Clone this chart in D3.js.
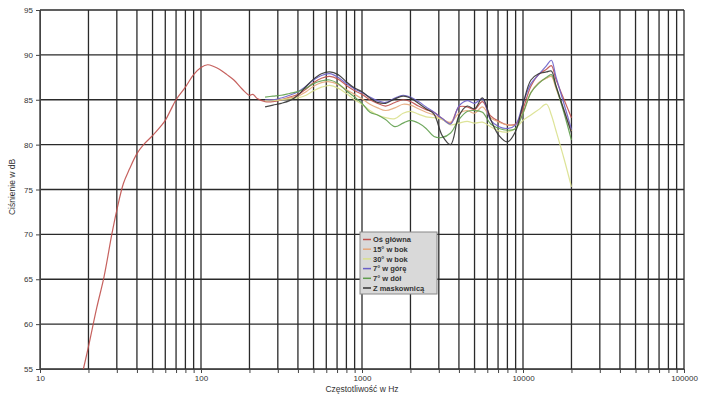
<!DOCTYPE html>
<html>
<head>
<meta charset="utf-8">
<script src="https://cdn.jsdelivr.net/npm/d3@7"></script>
<style>
  body { margin: 0; background: #fff; }
  text { font-family: "Liberation Sans", Arial, sans-serif; fill: #333; }
</style>
</head>
<body>
<div id="chart"></div>
<script>
// low range, main axis only
var lowFreqs = [18.6, 20, 22.5, 25, 28, 30, 33, 36, 40, 44, 50, 56, 60, 65, 70, 80, 90, 100, 110, 120, 130, 145, 160, 180, 200, 210, 225];
var lowMain  = [55, 57.5, 61.8, 65.3, 70.1, 72.7, 75.7, 77.3, 79.0, 80.0, 81.0, 82.0, 82.7, 83.9, 85.0, 86.4, 87.8, 88.6, 88.9, 88.7, 88.4, 87.8, 87.2, 86.2, 85.5, 85.6, 85.1];

// common grid for all measurements
var freqs = [250, 280, 315, 355, 400, 450, 500, 560, 630, 710, 800, 900, 1000, 1120, 1250, 1400, 1600, 1800, 2000, 2240, 2500, 2800, 3150, 3550, 4000, 4500, 5000, 5600, 6300, 7100, 8000, 9000, 10000, 11200, 12500, 14000, 15000, 16000, 18000, 20000];

var osGlowna  = [84.8, 84.8, 85.0, 85.3, 85.6, 86.2, 86.9, 87.4, 87.6, 87.3, 86.6, 86.0, 85.6, 85.0, 84.6, 84.3, 84.7, 85.0, 84.8, 84.3, 83.9, 83.6, 82.9, 82.4, 84.2, 84.2, 83.9, 84.8, 83.2, 82.6, 82.2, 82.3, 84.0, 86.5, 87.8, 88.4, 88.8, 87.3, 85.0, 83.0];
var bok15     = [84.9, 85.0, 85.0, 85.2, 85.4, 85.9, 86.5, 86.9, 87.0, 86.7, 86.1, 85.6, 85.1, 84.5, 84.1, 83.8, 84.1, 84.5, 84.4, 84.0, 83.6, 83.3, 82.8, 82.5, 83.5, 83.8, 83.5, 84.2, 83.0, 82.5, 82.2, 82.2, 83.5, 85.8, 86.9, 87.4, 87.6, 86.3, 83.8, 81.5];
var bok30     = [84.9, 84.9, 85.0, 85.1, 85.2, 85.5, 86.0, 86.4, 86.6, 86.3, 85.7, 85.0, 84.5, 83.8, 83.3, 83.0, 82.9, 83.5, 83.7, 83.4, 83.1, 83.0, 82.8, 82.2, 82.4, 82.6, 82.4, 82.5, 82.0, 81.5, 81.4, 81.8, 82.7, 83.3, 83.9, 84.5, 83.3, 81.6, 78.4, 75.3];
var gora7     = [85.0, 85.0, 85.2, 85.5, 85.9, 86.5, 87.2, 87.7, 87.9, 87.5, 86.8, 86.2, 85.8, 85.3, 84.9, 84.7, 85.2, 85.5, 85.3, 84.8, 84.2, 83.6, 82.9, 82.3, 84.3, 84.9, 84.6, 85.1, 82.7, 82.0, 81.8, 82.2, 84.6, 86.8, 87.8, 88.8, 89.4, 87.6, 84.5, 81.7];
var dol7      = [85.3, 85.4, 85.5, 85.7, 85.9, 86.3, 86.8, 87.1, 87.2, 86.8, 86.0, 85.3, 84.6, 83.6, 83.3, 82.8, 82.0, 82.4, 82.7, 82.4, 81.8, 80.9, 80.8, 81.3, 82.8, 83.7, 83.8, 83.6, 82.3, 81.8, 81.6, 81.8, 83.5, 85.8, 86.8, 87.5, 87.8, 86.5, 83.5, 80.5];
var maskownica= [84.2, 84.4, 84.6, 84.9, 85.5, 86.5, 87.3, 87.9, 88.1, 87.8, 87.0, 86.3, 85.9, 85.2, 84.7, 84.6, 85.1, 85.4, 85.2, 84.6, 84.0, 83.4, 81.0, 80.0, 83.2, 84.3, 84.0, 85.2, 82.8, 81.0, 80.3, 81.5, 84.5, 87.2, 87.9, 88.1, 88.2, 86.6, 83.8, 81.3];

var seriesNames  = ["Oś główna", "15° w bok", "30° w bok", "7° w górę", "7° w dół", "Z maskownicą"];
var seriesColors = ["#c0504d", "#e6a77a", "#d9e08c", "#6a5fc8", "#5f9e4c", "#333333"];
var yTicks = [55, 60, 65, 70, 75, 80, 85, 90, 95];

var width = 705, height = 397;
var margin = {top: 10, right: 21, bottom: 28, left: 40};

var svg = d3.select("#chart").append("svg")
    .attr("width", width)
    .attr("height", height);

var x = d3.scaleLog()
    .domain([10, 100000])
    .range([margin.left, width - margin.right]);

var y = d3.scaleLinear()
    .domain([55, 95])
    .range([height - margin.bottom, margin.top]);

// grid
var xGrid = x.ticks();
svg.append("g").selectAll("line")
    .data(xGrid)
    .enter().append("line")
    .attr("x1", function(d) { return x(d); })
    .attr("x2", function(d) { return x(d); })
    .attr("y1", y(55))
    .attr("y2", y(95))
    .attr("stroke", "#2a2a2a")
    .attr("stroke-width", 1.3);

svg.append("g").selectAll("line")
    .data(yTicks)
    .enter().append("line")
    .attr("x1", x(10))
    .attr("x2", x(100000))
    .attr("y1", function(d) { return y(d); })
    .attr("y2", function(d) { return y(d); })
    .attr("stroke", "#2a2a2a")
    .attr("stroke-width", 1.3);

// axes
var yAxis = d3.axisLeft(y)
    .tickValues(yTicks)
    .tickSize(4)
    .tickPadding(3);

svg.append("g")
    .attr("transform", "translate(" + margin.left + ",0)")
    .call(yAxis)
    .call(function(g) {
        g.selectAll("path, line").attr("stroke", "#444");
        g.selectAll("text").style("font-size", "8px").attr("fill", "#333");
    });

var xAxis = d3.axisBottom(x)
    .tickValues(xGrid)
    .tickSize(4)
    .tickPadding(2)
    .tickFormat(function(d) {
        var p = Math.log10(d);
        return Math.abs(p - Math.round(p)) < 1e-9 ? d3.format("d")(d) : "";
    });

svg.append("g")
    .attr("transform", "translate(0," + y(55) + ")")
    .call(xAxis)
    .call(function(g) {
        g.selectAll("path, line").attr("stroke", "#444");
        g.selectAll("text").style("font-size", "8px").attr("fill", "#333");
    });

// axis titles
svg.append("text")
    .attr("transform", "translate(15," + 187 + ") rotate(-90)")
    .attr("text-anchor", "middle")
    .style("font-size", "8.5px")
    .text("Ciśnienie w dB");

svg.append("text")
    .attr("x", 362)
    .attr("y", 392)
    .attr("text-anchor", "middle")
    .style("font-size", "8.5px")
    .text("Częstotliwość w Hz");

// data series
function pairs(fs, vs) {
    return fs.map(function(f, i) { return {f: f, v: vs[i]}; });
}

var series = [
    pairs(lowFreqs.concat(freqs), lowMain.concat(osGlowna)),
    pairs(freqs, bok15),
    pairs(freqs, bok30),
    pairs(freqs, gora7),
    pairs(freqs, dol7),
    pairs(freqs, maskownica)
];

var line = d3.line()
    .curve(d3.curveCatmullRom.alpha(0.5))
    .x(function(d) { return x(d.f); })
    .y(function(d) { return y(d.v); });

svg.append("g").selectAll("path")
    .data(series)
    .enter().append("path")
    .attr("d", line)
    .attr("fill", "none")
    .attr("stroke", function(d, i) { return seriesColors[i]; })
    .attr("stroke-width", 1.2)
    .attr("stroke-opacity", 0.9);

// legend
var legend = svg.append("g")
    .attr("transform", "translate(360,232)");

legend.append("rect")
    .attr("width", 77)
    .attr("height", 62)
    .attr("fill", "#d9d9d9")
    .attr("stroke", "#888")
    .attr("stroke-width", 1);

var item = legend.selectAll("g.item")
    .data(seriesNames)
    .enter().append("g")
    .attr("class", "item")
    .attr("transform", function(d, i) { return "translate(0," + (7.5 + i * 9.7) + ")"; });

item.append("line")
    .attr("x1", 3)
    .attr("x2", 11)
    .attr("stroke", function(d, i) { return seriesColors[i]; })
    .attr("stroke-width", 1.5);

item.append("text")
    .attr("x", 13)
    .attr("dy", "0.35em")
    .style("font-size", "7.5px")
    .style("font-weight", "bold")
    .attr("fill", "#333")
    .text(function(d) { return d; });
</script>
</body>
</html>
